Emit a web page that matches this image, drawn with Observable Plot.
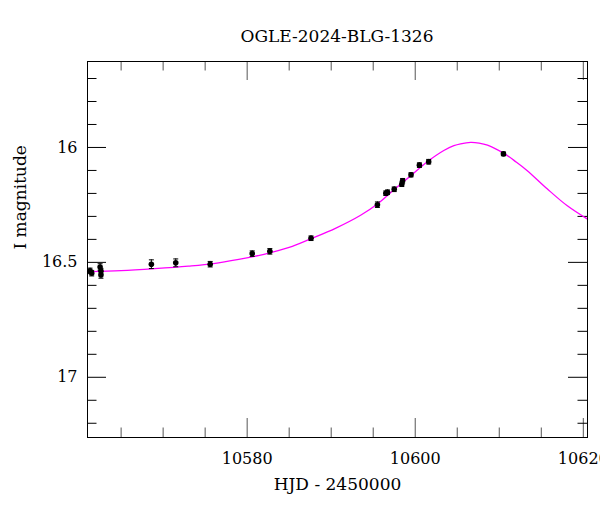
<!DOCTYPE html>
<html>
<head>
<meta charset="utf-8">
<script src="https://cdn.jsdelivr.net/npm/d3@7"></script>
<script src="https://cdn.jsdelivr.net/npm/@observablehq/plot@0.6"></script>
<style>
  html, body { margin: 0; padding: 0; background: #fff; }
  #wrap { width: 600px; }
  #title { position: relative; width: 600px; height: 50px; font-family: "DejaVu Serif", serif; font-size: 17px; color: #000; }
  #title span { position: absolute; left: 337px; top: 26px; transform: translateX(-50%); white-space: nowrap; }
</style>
</head>
<body>
<div id="wrap">
  <div id="title"><span>OGLE-2024-BLG-1326</span></div>
  <div id="chart"></div>
</div>
<script>
// ---- data ----
const titleText = "OGLE-2024-BLG-1326";
const xLabel = "HJD - 2450000";
const yLabel = "I magnitude";

// observations: time (HJD-2450000), I magnitude, error
const obsT   = [10561.3, 10561.5, 10562.5, 10562.6, 10562.6, 10568.6, 10571.5, 10575.6, 10580.6, 10582.7, 10587.6, 10595.5, 10596.5, 10596.7, 10597.5, 10598.4, 10598.5, 10599.5, 10600.5, 10601.6, 10610.5];
const obsMag = [16.537, 16.547, 16.520, 16.538, 16.555, 16.508, 16.502, 16.508, 16.462, 16.452, 16.395, 16.249, 16.199, 16.195, 16.182, 16.160, 16.145, 16.119, 16.077, 16.062, 16.028];
const obsErr = [0.012, 0.012, 0.014, 0.012, 0.014, 0.019, 0.017, 0.012, 0.012, 0.012, 0.010, 0.012, 0.010, 0.010, 0.010, 0.010, 0.010, 0.009, 0.010, 0.010, 0.008];

// model curve points
const modelT   = [10561.0, 10565.0, 10569.0, 10573.0, 10576.0, 10579.0, 10582.0, 10585.0, 10587.6, 10590.5, 10593.5, 10595.5, 10597.5, 10599.5, 10601.4, 10603.4, 10604.6, 10605.4, 10606.6, 10607.6, 10608.6, 10610.6, 10612.0, 10613.3, 10615.7, 10618.1, 10620.5];
const modelMag = [16.541, 16.536, 16.527, 16.516, 16.505, 16.487, 16.465, 16.435, 16.397, 16.352, 16.295, 16.246, 16.183, 16.122, 16.063, 16.013, 15.992, 15.984, 15.978, 15.981, 15.990, 16.027, 16.063, 16.100, 16.180, 16.254, 16.312];

// axis ticks
const xMajor = [10580, 10600, 10620];
const xMinor = [10565, 10570, 10575, 10585, 10590, 10595, 10605, 10610, 10615];
const yMajor = [16, 16.5, 17];
const yMinor = [15.7, 15.8, 15.9, 16.1, 16.2, 16.3, 16.4, 16.6, 16.7, 16.8, 16.9, 17.1, 17.2];
const xDomain = [10561.0, 10620.5];
const yDomain = [15.626, 17.262];

// ---- build ----
const obs = obsT.map((t, i) => ({t, mag: obsMag[i], err: obsErr[i]}));
const model = modelT.map((t, i) => ({t, mag: modelMag[i]}));

const W = 600, H = 462;
const mT = 11, mB = 75, mL = 87, mR = 13;
const plotH = H - mT - mB, plotW = W - mL - mR;
const majLen = 19, minLen = 9.5;

const capSymbol = {
  draw(ctx, size) {
    const w = Math.sqrt(size / Math.PI);
    ctx.moveTo(-w, 0);
    ctx.lineTo(w, 0);
  }
};

const chart = Plot.plot({
  width: W, height: H,
  marginTop: mT, marginBottom: mB, marginLeft: mL, marginRight: mR,
  style: {fontFamily: "DejaVu Serif, serif", fontSize: "16px", color: "#000", background: "#fff"},
  x: {domain: xDomain, ticks: xMajor, tickFormat: d => String(d), tickSize: 0, tickPadding: 15, label: null},
  y: {domain: yDomain, reverse: true, ticks: yMajor, tickFormat: d => String(d), tickSize: 0, tickPadding: 10, label: null},
  marks: [
    // inside ticks: bottom / top
    Plot.ruleX(xMajor, {x: d => d, insetTop: plotH - majLen, stroke: "#555"}),
    Plot.ruleX(xMinor, {x: d => d, insetTop: plotH - minLen, stroke: "#555"}),
    Plot.ruleX(xMajor, {x: d => d, insetBottom: plotH - majLen, stroke: "#555"}),
    Plot.ruleX(xMinor, {x: d => d, insetBottom: plotH - minLen, stroke: "#555"}),
    // inside ticks: left / right
    Plot.ruleY(yMajor, {y: d => d, insetRight: plotW - majLen, stroke: "#000"}),
    Plot.ruleY(yMinor, {y: d => d, insetRight: plotW - minLen, stroke: "#000"}),
    Plot.ruleY(yMajor, {y: d => d, insetLeft: plotW - majLen, stroke: "#000"}),
    Plot.ruleY(yMinor, {y: d => d, insetLeft: plotW - minLen, stroke: "#000"}),
    // model
    Plot.line(model, {x: "t", y: "mag", stroke: "#ff00ff", strokeWidth: 1.3, curve: "catmull-rom"}),
    // error bars
    Plot.ruleX(obs, {x: "t", y1: d => d.mag - d.err, y2: d => d.mag + d.err, stroke: "#000", strokeWidth: 1}),
    Plot.dot(obs, {x: "t", y: d => d.mag - d.err, symbol: capSymbol, r: 2.5, fill: "none", stroke: "#000", strokeWidth: 1}),
    Plot.dot(obs, {x: "t", y: d => d.mag + d.err, symbol: capSymbol, r: 2.5, fill: "none", stroke: "#000", strokeWidth: 1}),
    // points
    Plot.dot(obs, {x: "t", y: "mag", r: 2.8, fill: "#000", stroke: "none"}),
    // frame
    Plot.frame({stroke: "#000"}),
    // axis labels
    Plot.text([xLabel], {frameAnchor: "bottom", dy: 52, fontSize: 17, fill: "#000"}),
    Plot.text([yLabel], {frameAnchor: "left", dx: -67, rotate: -90, fontSize: 17, fill: "#000"})
  ]
});
document.getElementById("chart").appendChild(chart);
</script>
</body>
</html>
